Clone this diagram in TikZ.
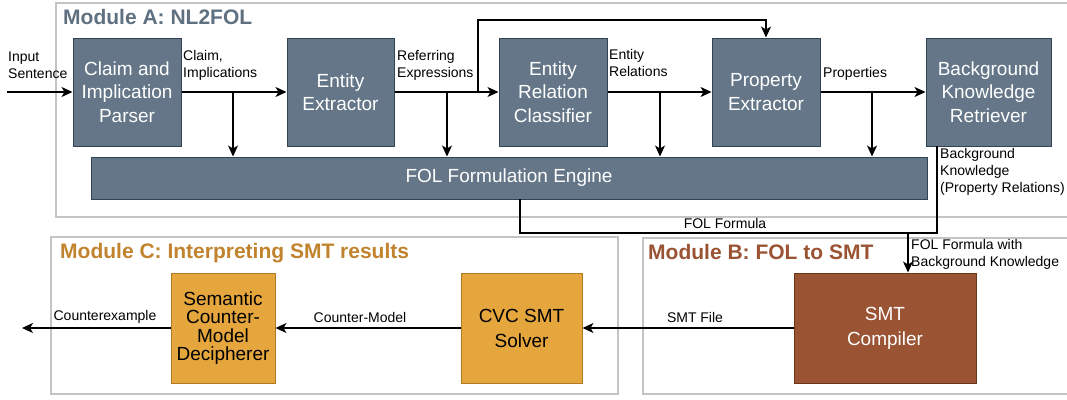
\documentclass[tikz,border=0pt]{standalone}
\usepackage{fontspec}
\setmainfont{Liberation Sans}
\usetikzlibrary{arrows.meta}
\definecolor{slatefill}{HTML}{647687}
\definecolor{slatedraw}{HTML}{314354}
\definecolor{orfill}{HTML}{E5A63D}
\definecolor{ordraw}{HTML}{B07A22}
\definecolor{brfill}{HTML}{9A5434}
\definecolor{brdraw}{HTML}{6A3519}
\definecolor{modgray}{HTML}{C4C4C4}
\definecolor{titleA}{HTML}{5F7080}
\definecolor{titleC}{HTML}{C1832E}
\definecolor{titleB}{HTML}{9A5434}
\tikzset{
  blk/.style={draw=slatedraw, fill=slatefill, line width=1pt, text=white, align=center, inner sep=0pt,
    font=\fontsize{19}{23.5}\selectfont},
  orblk/.style={draw=ordraw, fill=orfill, line width=1pt, text=black, align=center, inner sep=0pt},
  brblk/.style={draw=brdraw, fill=brfill, line width=1pt, text=white, align=center, inner sep=0pt,
    font=\fontsize{19}{25}\selectfont},
  modbox/.style={draw=modgray, line width=1.5pt},
  modtitle/.style={anchor=west, inner sep=0pt, font=\fontsize{21}{25}\selectfont\bfseries},
  lbl/.style={inner sep=0pt, align=left, font=\fontsize{14}{17}\selectfont},
  arr/.style={line width=1.3pt, -{Stealth[length=11pt,width=10pt,inset=3pt]}},
  ln/.style={line width=1.3pt}
}
\begin{document}
\begin{tikzpicture}[x=1pt,y=-1pt]
\useasboundingbox (0,0) rectangle (1067,399);
% module frames
\draw[modbox] (56,3) rectangle (1080,217);
\draw[modbox] (51,237) rectangle (618,394);
\draw[modbox] (643,238) rectangle (1080,394);
\node[modtitle, text=titleA] (tA) at (63,17) {Module A: NL2FOL};
\node[modtitle, text=titleC] (tC) at (60,253) {Module C: Interpreting SMT results};
\node[modtitle, text=titleB] (tB) at (648,252) {Module B: FOL to SMT};
% blocks
\node[blk, minimum width=108pt, minimum height=108pt] (cip) at (127,92) {Claim and\\Implication\\Parser};
\node[blk, minimum width=107pt, minimum height=108pt] (ee) at (340.5,92) {Entity\\Extractor};
\node[blk, minimum width=108pt, minimum height=108pt] (erc) at (553,92) {Entity\\Relation\\Classifier};
\node[blk, minimum width=108pt, minimum height=108pt] (pe) at (766,92) {Property\\Extractor};
\node[blk, minimum width=125pt, minimum height=108pt] (bkr) at (988.5,92) {Background\\Knowledge\\Retriever};
\node[blk, minimum width=836pt, minimum height=42pt] (fol) at (509,178) {FOL Formulation Engine};
\node[orblk, minimum width=104pt, minimum height=110pt, font=\fontsize{19}{18.5}\selectfont] (scmd) at (223,328) {Semantic\\Counter-\\Model\\Decipherer};
\node[orblk, minimum width=121pt, minimum height=110pt, font=\fontsize{19}{25}\selectfont] (cvc) at (521.5,328) {CVC SMT\\Solver};
\node[brblk, minimum width=182pt, minimum height=110pt] (smt) at (885,328) {SMT\\Compiler};
% coordinates
\coordinate (in) at (7,92);
\coordinate (b1) at (233,92);
\coordinate (b2) at (447,92);
\coordinate (lp) at (478,92);
\coordinate (lpt) at (478,20);
\coordinate (b3) at (660,92);
\coordinate (b4) at (872,92);
\coordinate (fs) at (520,199);
\coordinate (fc) at (937,233);
\coordinate (bs) at (937,146);
\coordinate (jn) at (908,233);
\coordinate (out) at (22,328);
% connectors
\draw[arr] (in) -- (cip.west);
\draw[arr] (cip.east) -- (ee.west);
\draw[arr] (b1) -- (b1 |- fol.north);
\draw[arr] (ee.east) -- (erc.west);
\draw[arr] (b2) -- (b2 |- fol.north);
\draw[arr] (lp) -- (lpt) -| (pe.north);
\draw[arr] (erc.east) -- (pe.west);
\draw[arr] (b3) -- (b3 |- fol.north);
\draw[arr] (pe.east) -- (bkr.west);
\draw[arr] (b4) -- (b4 |- fol.north);
\draw[ln] (fs) |- (fc) -- (bs);
\draw[arr] (jn) -- (jn |- smt.north);
\draw[arr] (smt.west) -- (cvc.east);
\draw[arr] (cvc.west) -- (scmd.east);
\draw[arr] (scmd.west) -- (out);
% labels
\node[lbl, anchor=west] (l1) at (8,65.5) {Input\\Sentence};
\node[lbl, anchor=west] (l2) at (183,65.5) {Claim,\\Implications};
\node[lbl, anchor=west] (l3) at (397,65.5) {Referring\\Expressions};
\node[lbl, anchor=west] (l4) at (609,62.5) {Entity\\Relations};
\node[lbl, anchor=west] (l5) at (823,74) {Properties};
\node[lbl, anchor=west] (l6) at (940,172) {Background\\Knowledge\\(Property Relations)};
\node[lbl] (l7) at (725,223) {FOL Formula};
\node[lbl, anchor=west] (l8) at (911,254) {FOL Formula with\\Background Knowledge};
\node[lbl] (l9) at (695,317) {SMT File};
\node[lbl] (l10) at (360,317) {Counter-Model};
\node[lbl] (l11) at (105,317) {Counterexample};
\end{tikzpicture}
\end{document}
